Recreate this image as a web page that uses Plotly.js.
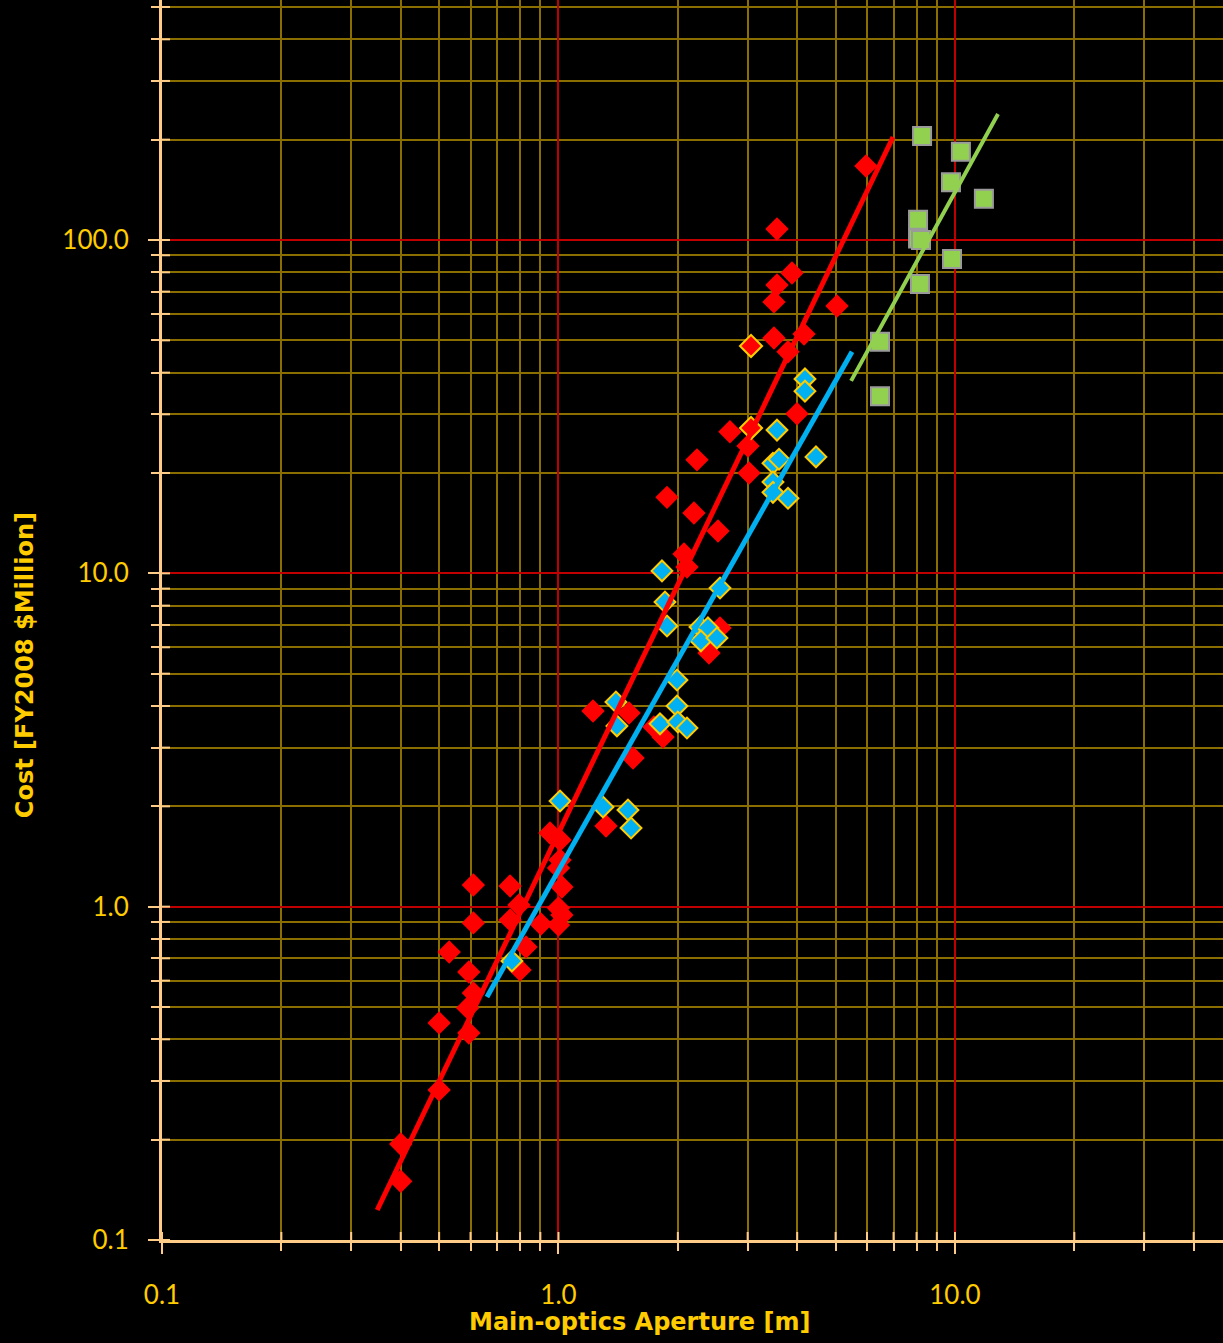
<!DOCTYPE html>
<html>
<head>
<meta charset="utf-8">
<script src="https://cdn.plot.ly/plotly-3.0.1.min.js"></script>
<style>html,body{margin:0;padding:0;background:#000;}#chart{width:1223px;height:1343px;}</style>
</head>
<body>
<div id="chart"></div>
<script>
// Red diamonds (plain)
const redX = [0.40, 0.40, 0.50, 0.50, 0.53, 0.594, 0.59, 0.61, 0.594, 0.61, 0.61, 0.755, 0.755, 0.795, 0.903, 0.828, 0.80,
  1.0, 1.0, 1.02, 1.02, 1.0, 1.009, 1.009, 0.952, 1.222, 1.318, 1.506, 1.542, 1.741, 1.835, 1.878, 2.073, 2.109, 2.196,
  2.235, 2.397, 2.525, 2.555, 2.707, 3.006, 3.024, 3.495, 3.495, 3.557, 3.557, 3.792, 3.881, 3.995, 4.161, 5.04, 5.964];
const redY = [0.194, 0.150, 0.282, 0.448, 0.731, 0.418, 0.497, 0.551, 0.637, 0.894, 1.162, 1.154, 0.912, 1.012, 0.887, 0.757, 0.646,
  0.881, 0.991, 0.944, 1.146, 1.306, 1.38, 1.585, 1.664, 3.865, 1.746, 3.81, 2.793, 3.46, 3.229, 16.9, 11.43, 10.45, 15.17,
  21.9, 5.77, 13.4, 6.86, 26.6, 24.1, 20.0, 65.2, 50.8, 107.9, 73.3, 46.2, 79.6, 30.1, 52.2, 63.4, 166.8];
// Red diamonds with yellow outline
const redOutlineX = [3.059, 3.059];
const redOutlineY = [48.1, 27.3];
// Cyan diamonds
const cyanX = [0.763, 1.009, 1.295, 1.497, 1.524, 1.396, 1.404, 1.803, 1.99, 1.99, 2.0, 2.109, 1.824, 1.856, 1.878,
  2.274, 2.382, 2.287, 2.51, 2.555, 3.475, 3.599, 3.475, 3.475, 3.792, 3.557, 4.461, 4.185, 4.185];
const cyanY = [0.687, 2.075, 1.991, 1.95, 1.722, 4.11, 3.485, 3.535, 4.786, 4.0, 3.58, 3.436, 10.17, 8.2, 6.95,
  6.9, 6.86, 6.27, 6.4, 9.04, 21.4, 22.0, 18.8, 17.5, 16.8, 26.9, 22.35, 38.3, 35.2];
// Green squares
const greenX = [8.26, 10.35, 9.77, 11.83, 8.07, 8.07, 8.21, 9.83, 8.16, 6.47, 6.47];
const greenY = [205, 184, 149, 133, 115, 101, 100, 87.7, 73.8, 49.5, 34.0];
// Fit lines (end points)
const redFitX = [0.349, 6.98];
const redFitY = [0.123, 203.7];
const cyanFitX = [0.66, 5.5];
const cyanFitY = [0.536, 46.2];
const greenFitX = [5.47, 12.84];
const greenFitY = [37.8, 238.9];
// Ticks
const xTickVals = [0.1, 1, 10];
const xTickText = ['0.1', '1.0', '10.0'];
const xMinorVals = [0.2,0.3,0.4,0.5,0.6,0.7,0.8,0.9,2,3,4,5,6,7,8,9,20,30,40];
const yTickVals = [0.1, 1, 10, 100];
const yTickText = ['0.1', '1.0', '10.0', '100.0'];
const yMinorVals = [0.2,0.3,0.4,0.5,0.6,0.7,0.8,0.9,2,3,4,5,6,7,8,9,20,30,40,50,60,70,80,90,200,300,400,500];
const xTitle = 'Main-optics Aperture [m]';
const yTitle = 'Cost [FY2008 $Million]';

const FONT = 'Lato, "Open Sans", sans-serif';
const TFONT = '"DejaVu Sans", "Open Sans", sans-serif';
const GOLD = '#FFCC00';
const AXIS = '#FFCC88';
const GRID = '#8A6E00';
const RGRID = '#C00000';

const traces = [
  {x: redX, y: redY, mode: 'markers', type: 'scatter',
   marker: {symbol: 'diamond', size: 18, color: '#FF0000', line: {width: 0}}},
  {x: redOutlineX, y: redOutlineY, mode: 'markers', type: 'scatter',
   marker: {symbol: 'diamond', size: 17, color: '#FF0000', line: {width: 2, color: GOLD}}},
  {x: cyanX, y: cyanY, mode: 'markers', type: 'scatter',
   marker: {symbol: 'diamond', size: 16, color: '#00B0F0', line: {width: 2, color: GOLD}}},
  {x: greenX, y: greenY, mode: 'markers', type: 'scatter',
   marker: {symbol: 'square', size: 18, color: '#92D050', line: {width: 2, color: '#9A9A9A'}}},
  {x: redFitX, y: redFitY, mode: 'lines', type: 'scatter', line: {color: '#FF0000', width: 5}},
  {x: cyanFitX, y: cyanFitY, mode: 'lines', type: 'scatter', line: {color: '#00B0F0', width: 5}},
  {x: greenFitX, y: greenFitY, mode: 'lines', type: 'scatter', line: {color: '#92D050', width: 4}}
];

// inward halves of the crossing tick marks
const shapes = [];
xTickVals.concat(xMinorVals).forEach(v => {
  shapes.push({type: 'line', xref: 'x', yref: 'paper', ysizemode: 'pixel', yanchor: 0,
    x0: v, x1: v, y0: 0, y1: 8, line: {color: AXIS, width: 2}, layer: 'above'});
});
yTickVals.concat(yMinorVals).forEach(v => {
  shapes.push({type: 'line', yref: 'y', xref: 'paper', xsizemode: 'pixel', xanchor: 0,
    y0: v, y1: v, x0: 0, x1: 8, line: {color: AXIS, width: 2}, layer: 'above'});
});

const layout = {
  width: 1223, height: 1343,
  paper_bgcolor: '#000', plot_bgcolor: '#000',
  margin: {l: 162, r: 0, t: 0, b: 103},
  showlegend: false,
  font: {family: FONT, color: GOLD},
  xaxis: {
    type: 'log', range: [-1, 1.676], tickvals: xTickVals, ticktext: xTickText,
    showgrid: true, gridcolor: RGRID, gridwidth: 2, zeroline: false,
    showline: true, linecolor: AXIS, linewidth: 3,
    ticks: 'outside', ticklen: 11, tickwidth: 2, tickcolor: AXIS,
    ticklabelstandoff: 19,
    tickfont: {family: FONT, size: 26, color: GOLD},
    minor: {tickvals: xMinorVals, showgrid: true, gridcolor: GRID, gridwidth: 2,
            ticks: 'outside', ticklen: 8, tickwidth: 2, tickcolor: AXIS},
    fixedrange: true
  },
  yaxis: {
    type: 'log', range: [-1, 2.72], tickvals: yTickVals, ticktext: yTickText,
    showgrid: true, gridcolor: RGRID, gridwidth: 2, zeroline: false,
    showline: true, linecolor: AXIS, linewidth: 3,
    ticks: 'outside', ticklen: 11, tickwidth: 2, tickcolor: AXIS,
    ticklabelstandoff: 14,
    tickfont: {family: FONT, size: 26, color: GOLD},
    minor: {tickvals: yMinorVals, showgrid: true, gridcolor: GRID, gridwidth: 2,
            ticks: 'outside', ticklen: 8, tickwidth: 2, tickcolor: AXIS},
    fixedrange: true
  },
  shapes: shapes,
  annotations: [
    {text: xTitle, xref: 'paper', yref: 'paper', x: 0.4505, y: -0.0665, xanchor: 'center', yanchor: 'middle',
     showarrow: false, font: {family: TFONT, size: 24, color: GOLD, weight: 'bold'}},
    {text: yTitle, xref: 'paper', yref: 'paper', x: -0.129, y: 0.4637, xanchor: 'center', yanchor: 'middle',
     textangle: -90, showarrow: false, font: {family: TFONT, size: 24, color: GOLD, weight: 'bold'}}
  ]
};

Plotly.newPlot('chart', traces, layout, {displayModeBar: false, staticPlot: true});
</script>
</body>
</html>
